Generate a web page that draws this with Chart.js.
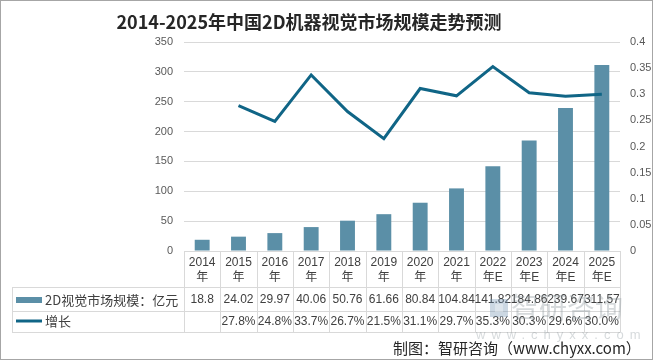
<!DOCTYPE html>
<html>
<head>
<meta charset="utf-8">
<script src="https://cdn.jsdelivr.net/npm/chart.js@4.4.1/dist/chart.umd.min.js"></script>
<style>
  body { margin: 0; background: #fff; }
  #wrap { width: 655px; height: 361px; }
</style>
</head>
<body>
<div id="wrap"><canvas id="visionChart" width="655" height="361"></canvas></div>
<script>
const years = ['2014', '2015', '2016', '2017', '2018', '2019', '2020', '2021', '2022', '2023', '2024', '2025'];
const yearSuffix = ['年', '年', '年', '年', '年', '年', '年', '年', '年E', '年E', '年E', '年E'];
const marketSize = [18.8, 24.02, 29.97, 40.06, 50.76, 61.66, 80.84, 104.84, 141.82, 184.86, 239.67, 311.57];
const growth = [null, 0.278, 0.248, 0.337, 0.267, 0.215, 0.311, 0.297, 0.353, 0.303, 0.296, 0.300];
const sizeLabel = '2D视觉市场规模：亿元';
const growthLabel = '增长';

const barColor = '#5b8fa7';
const lineColor = '#106586';
const gridColor = '#d9d9d9';
const textColor = '#404040';

// title, table under the plot, watermark and footer
const extras = {
  id: 'extras',
  afterDraw(chart) {
    const ctx = chart.ctx;
    const area = chart.chartArea;
    const x = chart.scales.x;
    const colW = (area.right - area.left) / years.length;
    ctx.save();

    // outer border
    ctx.strokeStyle = '#a6a6a6';
    ctx.lineWidth = 1;
    ctx.strokeRect(0.5, 0.5, 652, 359);

    // title
    ctx.fillStyle = '#262626';
    ctx.font = 'bold 18px "Noto Sans CJK SC"';
    ctx.textAlign = 'center';
    ctx.textBaseline = 'middle';
    ctx.fillText('2014-2025年中国2D机器视觉市场规模走势预测', 309, 22);

    // table grid
    const top = 251, hdr = 287, r1 = 311, r2 = 332, tl = 12;
    ctx.strokeStyle = gridColor;
    ctx.beginPath();
    for (let i = 0; i <= years.length; i++) {
      const cx = Math.round(area.left + i * colW) + 0.5;
      ctx.moveTo(cx, top); ctx.lineTo(cx, r2);
    }
    [hdr, r1, r2].forEach(y => { ctx.moveTo(tl, y + 0.5); ctx.lineTo(area.right, y + 0.5); });
    ctx.moveTo(tl + 0.5, hdr); ctx.lineTo(tl + 0.5, r2);
    ctx.stroke();

    // table text
    ctx.fillStyle = textColor;
    ctx.font = '12px "Liberation Sans", "Noto Sans CJK SC"';
    years.forEach((yr, i) => {
      const cx = x.getPixelForValue(i);
      ctx.fillText(yr, cx, 263);
      ctx.fillText(yearSuffix[i], cx, 278);
      ctx.fillText(String(marketSize[i]), cx, 300);
      if (growth[i] !== null) ctx.fillText((growth[i] * 100).toFixed(1) + '%', cx, 322);
    });

    // legend keys
    ctx.fillStyle = barColor;
    ctx.fillRect(16, 297, 26, 6);
    ctx.strokeStyle = lineColor;
    ctx.lineWidth = 3;
    ctx.beginPath(); ctx.moveTo(16, 321); ctx.lineTo(42, 321); ctx.stroke();
    ctx.fillStyle = textColor;
    ctx.textAlign = 'left';
    ctx.font = '13px "Noto Sans CJK SC"';
    ctx.fillText(sizeLabel, 45, 300);
    ctx.fillText(growthLabel, 45, 321);

    // watermark
    ctx.globalAlpha = 0.35;
    ctx.fillStyle = '#6d8fae';
    ctx.fillRect(490, 299, 18, 18);
    ctx.fillStyle = '#fff';
    ctx.fillRect(495, 304, 8, 8);
    ctx.fillStyle = '#8a949c';
    ctx.font = '28px "Noto Sans CJK SC"';
    ctx.fillText('智研咨询', 511, 307);
    ctx.font = '13px "Liberation Sans"';
    ctx.letterSpacing = '6px';
    ctx.fillText('www.chyxx.com', 476, 335);
    ctx.letterSpacing = '0px';
    ctx.globalAlpha = 1;

    // footer
    ctx.fillStyle = '#262626';
    ctx.font = '15px "Noto Sans CJK SC", "Liberation Sans"';
    ctx.fillText('制图：智研咨询（www.chyxx.com）', 393, 348);
    ctx.restore();
  }
};

new Chart(document.getElementById('visionChart'), {
  data: {
    labels: years.map((y, i) => y + yearSuffix[i]),
    datasets: [{
      type: 'line',
      label: growthLabel,
      data: growth,
      yAxisID: 'y1',
      borderColor: lineColor,
      borderWidth: 3,
      pointRadius: 0,
      tension: 0,
      order: 0
    }, {
      type: 'bar',
      label: sizeLabel,
      data: marketSize,
      yAxisID: 'y',
      backgroundColor: barColor,
      barPercentage: 0.41,
      categoryPercentage: 1,
      order: 1
    }]
  },
  plugins: [extras],
  options: {
    responsive: false,
    animation: false,
    devicePixelRatio: 1,
    layout: { padding: { top: 42, bottom: 110, left: 0, right: 0 } },
    plugins: { legend: { display: false }, tooltip: { enabled: false } },
    scales: {
      x: { display: false },
      y: {
        position: 'left',
        min: 0, max: 350,
        ticks: { stepSize: 50, padding: 11, color: '#595959', font: { size: 11, family: 'Liberation Sans' } },
        grid: { color: gridColor, drawTicks: false },
        border: { display: false },
        afterFit: s => { s.width = 184; }
      },
      y1: {
        position: 'right',
        min: 0, max: 0.4,
        ticks: {
          stepSize: 0.05, padding: 10, color: '#595959', font: { size: 11, family: 'Liberation Sans' },
          callback: v => String(+v.toFixed(2))
        },
        grid: { display: false, drawTicks: false },
        border: { display: false },
        afterFit: s => { s.width = 35; }
      }
    }
  }
});
</script>
</body>
</html>
